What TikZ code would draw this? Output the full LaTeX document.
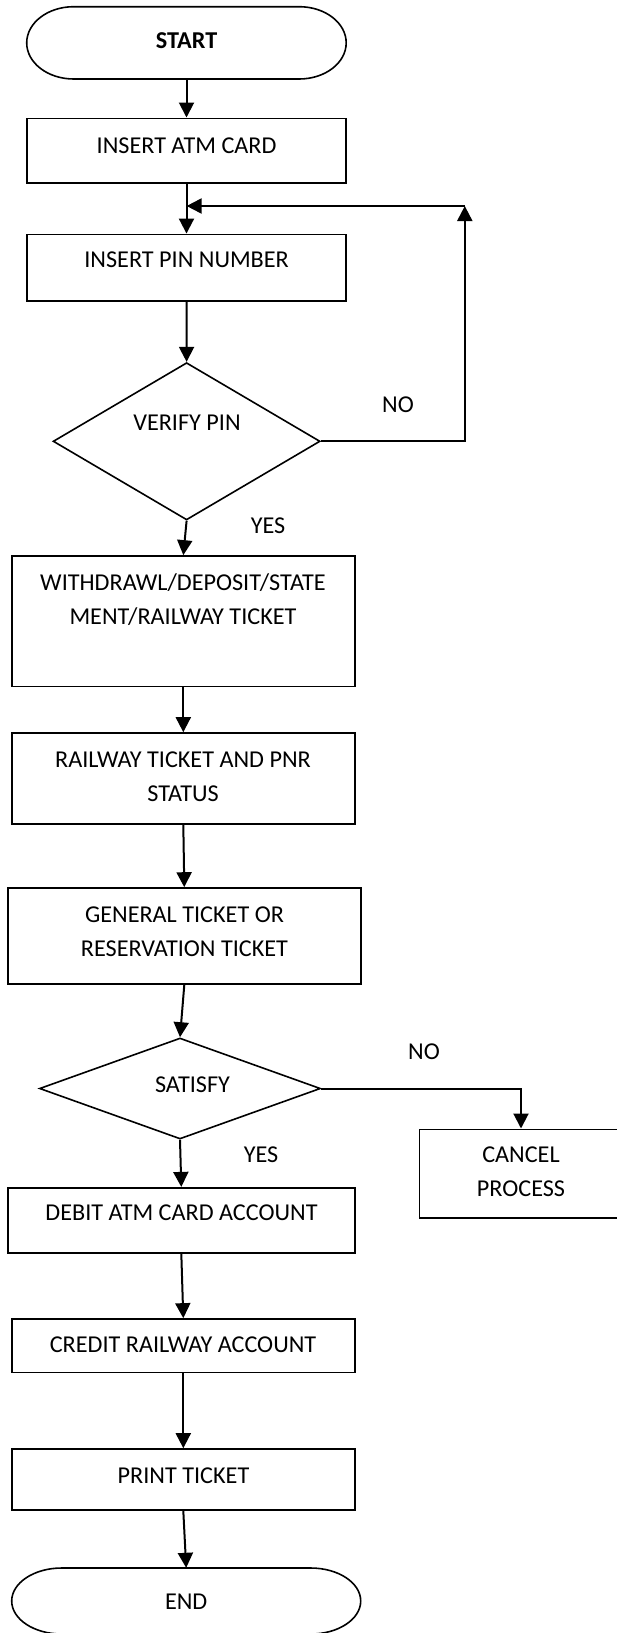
\documentclass[tikz,border=0pt]{standalone}
\usepackage{fontspec}
\setmainfont{Carlito}
\usetikzlibrary{shapes.geometric,arrows.meta}
\begin{document}
\begin{tikzpicture}[x=1pt,y=-1pt,
  box/.style={draw, line width=1.6pt, rectangle, inner sep=0pt},
  term/.style={inner sep=0pt, rectangle},
  outline/.style={line width=1.6pt},
  dia/.style={draw, line width=1.6pt, diamond, inner sep=0pt},
  txt/.style={inner sep=0pt, align=center, font=\fontsize{24.2}{34}\selectfont},
  arr/.style={line width=2pt, -{Triangle[length=15pt,width=15pt]}}]
\useasboundingbox (0,0) rectangle (616,1633);

% shapes
\node[term, minimum width=319.5pt, minimum height=72.3pt] (start) at (186.5,42.8) {};
\draw[outline] (73.7,6.7) -- (299.2,6.7)
  .. controls (325.2,6.7) and (346.2,22.9) .. (346.2,42.85)
  .. controls (346.2,62.8) and (325.2,79) .. (299.2,79) -- (73.7,79)
  .. controls (47.7,79) and (26.7,62.8) .. (26.7,42.85)
  .. controls (26.7,22.9) and (47.7,6.7) .. (73.7,6.7) -- cycle;
\node[box, minimum width=319.5pt, minimum height=64.4pt] (atm) at (186.5,150.5) {};
\node[box, minimum width=319.5pt, minimum height=66.7pt] (pin) at (186.5,267.7) {};
\node[dia, minimum width=267pt, minimum height=157.3pt] (verify) at (186.6,441.3) {};
\node[box, minimum width=343pt, minimum height=130.7pt] (withdraw) at (183.3,621.3) {};
\node[box, minimum width=343pt, minimum height=91pt] (railway) at (183.3,778.5) {};
\node[box, minimum width=352.8pt, minimum height=96pt] (general) at (184.3,936) {};
\node[dia, minimum width=281pt, minimum height=101pt] (satisfy) at (180,1088.5) {};
\node[box, minimum width=203pt, minimum height=88.4pt] (cancel) at (521,1173.5) {};
\node[box, minimum width=346.9pt, minimum height=65pt] (debit) at (181.3,1220.2) {};
\node[box, minimum width=343pt, minimum height=53.7pt] (credit) at (183.3,1345.8) {};
\node[box, minimum width=343pt, minimum height=61pt] (print) at (183.3,1479.5) {};
\node[term, minimum width=349pt, minimum height=66pt] (end) at (186.2,1601) {};
\draw[outline] (61.7,1568) -- (310.7,1568)
  .. controls (338.3,1568) and (360.7,1582.8) .. (360.7,1601)
  .. controls (360.7,1619.2) and (338.3,1634) .. (310.7,1634) -- (61.7,1634)
  .. controls (34.1,1634) and (11.7,1619.2) .. (11.7,1601)
  .. controls (11.7,1582.8) and (34.1,1568) .. (61.7,1568) -- cycle;

% texts
\node[txt, font=\fontsize{24.2}{34}\selectfont\bfseries] (tstart) at (186.6,40.7) {START};
\node[txt] (tatm) at (186.6,145.7) {INSERT ATM CARD};
\node[txt] (tpin) at (186.6,260) {INSERT PIN NUMBER};
\node[txt] (tverify) at (187,422.7) {VERIFY PIN};
\node[txt] (tno1) at (398,405) {NO};
\node[txt] (tyes1) at (268,525.7) {YES};
\node[txt] (twithdraw) at (183,599.7) {WITHDRAWL/DEPOSIT/STATE\\MENT/RAILWAY TICKET};
\node[txt] (trailway) at (183,776.3) {RAILWAY TICKET AND PNR\\STATUS};
\node[txt] (tgeneral) at (184.5,932) {GENERAL TICKET OR\\RESERVATION TICKET};
\node[txt] (tsatisfy) at (192.5,1085) {SATISFY};
\node[txt] (tno2) at (424,1051.7) {NO};
\node[txt] (tyes2) at (261,1155) {YES};
\node[txt] (tcancel) at (521,1171.5) {CANCEL\\PROCESS};
\node[txt] (tdebit) at (181.5,1213) {DEBIT ATM CARD ACCOUNT};
\node[txt] (tcredit) at (183,1345) {CREDIT RAILWAY ACCOUNT};
\node[txt] (tprint) at (183.5,1476) {PRINT TICKET};
\node[txt] (tend) at (186.2,1601.7) {END};

% connectors
\coordinate (loopc) at (464.8,206);
\coordinate (loopend) at (186.6,206);
\draw[arr] (start.south) -- (atm.north);
\draw[arr] (atm.south) -- (pin.north);
\draw[arr] (verify.east) -| (loopc);
\draw[arr] (loopc) -- (loopend);
\draw[arr] (pin.south) -- (verify.north);
\draw[arr] (verify.south) -- (withdraw.north);
\draw[arr] (withdraw.south) -- (railway.north);
\draw[arr] (railway.south) -- (general.north);
\draw[arr] (general.south) -- (satisfy.north);
\draw[arr] (satisfy.east) -| (cancel.north);
\draw[arr] (satisfy.south) -- (debit.north);
\draw[arr] (debit.south) -- (credit.north);
\draw[arr] (credit.south) -- (print.north);
\draw[arr] (print.south) -- (end.north);
\end{tikzpicture}
\end{document}
